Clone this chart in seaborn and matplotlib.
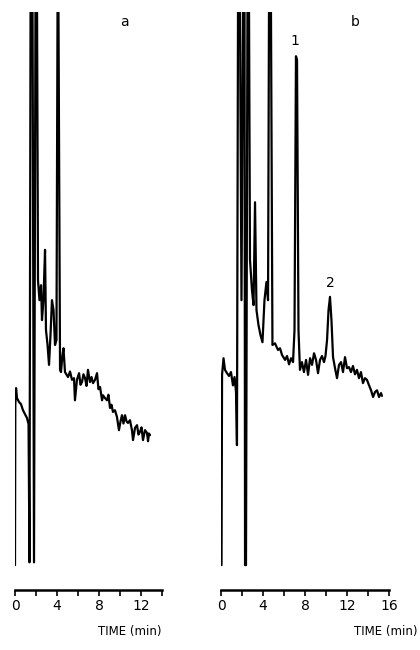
import numpy as np
import pandas as pd
import seaborn as sns
from matplotlib import pyplot as plt

# chromatogram a (time in min, detector response, 100 = pen limit)
time_a = [0.00, 0.03, 0.10, 0.19, 0.38, 0.57, 0.76, 0.95, 1.14, 1.29,
          1.38, 1.48, 1.67, 1.81, 1.95, 2.10, 2.19, 2.33, 2.48, 2.57,
          2.71, 2.86, 2.95, 3.10, 3.24, 3.38, 3.52, 3.67, 3.81, 3.95,
          4.05, 4.14, 4.29, 4.38, 4.52, 4.62, 4.76, 5.05, 5.24, 5.43,
          5.62, 5.71, 5.90, 6.10, 6.24, 6.38, 6.52, 6.67, 6.81, 6.95,
          7.14, 7.29, 7.43, 7.62, 7.81, 7.95, 8.10, 8.29, 8.38, 8.57,
          8.76, 8.90, 9.05, 9.19, 9.33, 9.52, 9.71, 9.90, 10.05, 10.19,
          10.33, 10.48, 10.62, 10.76, 10.95, 11.14, 11.24, 11.43, 11.62, 11.76,
          11.90, 12.05, 12.19, 12.38, 12.57, 12.67, 12.76, 12.86]
signal_a = [0.0, 28.9, 32.0, 30.2, 29.5, 29.1, 28.0, 27.3, 26.6, 25.5,
            0.5, 100, 100, 0.5, 100, 100, 51.5, 47.9, 50.6, 44.3,
            47.9, 57.0, 42.5, 39.8, 36.2, 41.6, 47.9, 46.1, 39.8, 40.7,
            100, 100, 35.3, 34.9, 38.0, 39.2, 34.9, 34.0, 35.0, 33.5,
            33.8, 29.8, 33.5, 34.7, 32.6, 33.1, 34.5, 33.8, 32.4, 35.3,
            33.1, 34.0, 32.9, 33.5, 34.7, 31.8, 32.2, 29.8, 30.7, 30.2,
            29.8, 30.8, 28.4, 29.0, 27.7, 28.0, 26.8, 24.4, 26.0, 27.1,
            25.6, 27.1, 26.0, 25.7, 26.2, 24.4, 22.6, 24.8, 25.3, 23.6,
            24.1, 24.9, 22.6, 24.4, 23.9, 22.4, 23.8, 23.5]

# chromatogram b
time_b = [0.05, 0.10, 0.24, 0.38, 0.57, 0.76, 0.95, 1.14, 1.29, 1.43,
          1.52, 1.62, 1.81, 1.95, 2.10, 2.24, 2.29, 2.38, 2.52, 2.67,
          2.76, 2.95, 3.10, 3.24, 3.38, 3.57, 3.76, 3.95, 4.14, 4.33,
          4.48, 4.57, 4.76, 4.90, 5.14, 5.43, 5.62, 5.81, 6.10, 6.29,
          6.48, 6.67, 6.86, 7.00, 7.14, 7.24, 7.38, 7.52, 7.71, 7.90,
          8.10, 8.29, 8.48, 8.67, 8.86, 9.05, 9.24, 9.43, 9.62, 9.81,
          9.95, 10.10, 10.24, 10.38, 10.52, 10.67, 10.86, 11.05, 11.24, 11.43,
          11.62, 11.81, 12.00, 12.19, 12.38, 12.57, 12.76, 12.95, 13.14, 13.33,
          13.52, 13.71, 13.90, 14.10, 14.29, 14.48, 14.67, 14.86, 15.05, 15.24,
          15.33]
signal_b = [0.0, 34.4, 37.4, 35.3, 34.7, 34.2, 34.9, 32.5, 34.0, 31.3,
            21.7, 100, 100, 47.9, 100, 100, 0.0, 0.0, 100, 100,
            55.2, 49.7, 47.0, 65.6, 46.1, 43.4, 41.6, 40.3, 47.9, 51.2,
            47.9, 100, 100, 39.8, 40.1, 38.9, 39.2, 38.0, 37.1, 37.8,
            36.3, 37.4, 36.7, 42.5, 92.0, 91.3, 42.5, 35.3, 36.7, 34.9,
            37.1, 34.4, 37.4, 36.2, 38.3, 37.1, 34.7, 37.1, 37.8, 36.7,
            37.8, 40.7, 46.1, 48.5, 44.3, 37.6, 35.6, 33.8, 36.2, 36.7,
            34.9, 37.6, 35.6, 35.8, 34.9, 36.0, 34.5, 35.3, 33.8, 34.9,
            32.9, 33.8, 33.5, 32.5, 31.6, 30.4, 31.3, 31.6, 30.4, 31.1,
            30.6]

ticks_a = [0, 2, 4, 6, 8, 10, 12, 14]
ticks_b = [0, 2, 4, 6, 8, 10, 12, 14, 16]

sns.set_style("white", {"text.color": "black", "xtick.color": "black"})
plt.rcParams["font.family"] = ["DejaVu Sans"]

fig = plt.figure(figsize=(4.2, 6.5), dpi=100)
ax_a = fig.add_axes([15 / 420, 60 / 650, 147 / 420, 578 / 650])
ax_b = fig.add_axes([221 / 420, 60 / 650, 168 / 420, 578 / 650])

df_a = pd.DataFrame({"time": time_a, "signal": signal_a})
df_b = pd.DataFrame({"time": time_b, "signal": signal_b})

for ax, df, ticks in [(ax_a, df_a, ticks_a), (ax_b, df_b, ticks_b)]:
    sns.lineplot(data=df, x="time", y="signal", sort=False, estimator=None,
                 color="black", linewidth=1.6, ax=ax)
    ax.set_xlim(ticks[0], ticks[-1])
    ax.set_ylim(-4.5, 100)
    ax.set_xticks(ticks)
    ax.set_xticklabels([str(t) if t % 4 == 0 else "" for t in ticks])
    ax.set_yticks([])
    ax.set_xlabel("")
    ax.set_ylabel("")
    sns.despine(ax=ax, left=True)
    ax.spines["bottom"].set_linewidth(1.8)
    ax.spines["bottom"].set_color("black")
    ax.tick_params(axis="x", direction="out", length=4.5, width=1.2,
                   color="black", labelcolor="black", pad=2, labelsize=10,
                   bottom=True)
    ax.set_facecolor("white")

ax_a.text(10.4, 98.2, "a", ha="center", va="center", fontsize=10, color="black")
ax_b.text(12.76, 98.2, "b", ha="center", va="center", fontsize=10, color="black")
ax_b.text(7.05, 94.8, "1", ha="center", va="center", fontsize=10, color="black")
ax_b.text(10.38, 51.0, "2", ha="center", va="center", fontsize=10, color="black")

fig.text(162 / 420, 1 - 632 / 650, "TIME (min)", ha="right", va="center",
         fontsize=8.5, color="black")
fig.text(417 / 420, 1 - 632 / 650, "TIME (min)", ha="right", va="center",
         fontsize=8.5, color="black")

fig.savefig("out.png", dpi=100, facecolor="white")
